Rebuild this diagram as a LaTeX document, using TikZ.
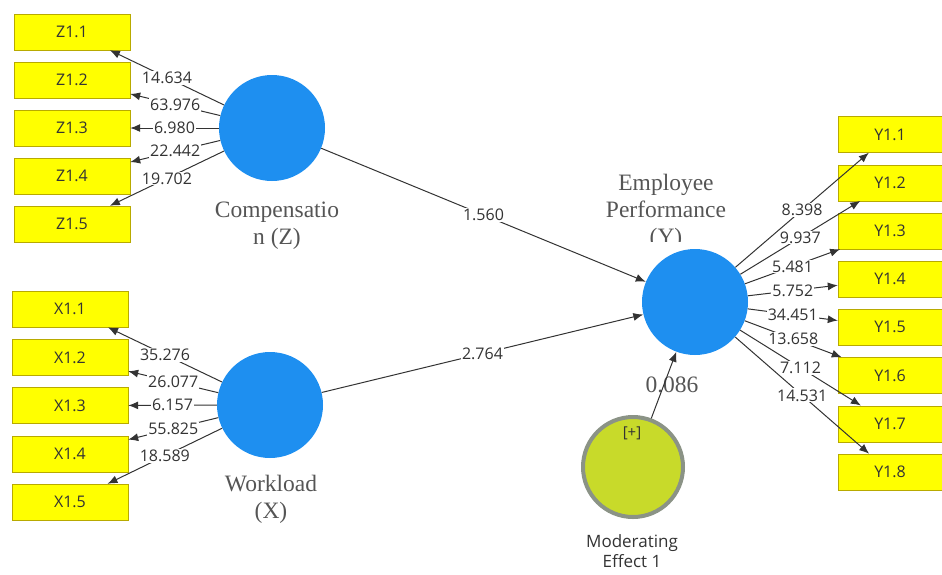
\documentclass[tikz,border=0pt]{standalone}
\usepackage{fontspec}
\setmainfont{Liberation Serif}
\setsansfont{Open Sans}
\usetikzlibrary{arrows.meta}
\definecolor{lvblue}{HTML}{1E8FF0}
\definecolor{modgreen}{HTML}{C8DA2A}
\definecolor{modrim}{HTML}{8B9386}
\definecolor{boxyellow}{HTML}{FFFF00}
\definecolor{boxrim}{HTML}{B8AA00}
\definecolor{inktext}{HTML}{333333}
\definecolor{serifgray}{HTML}{555555}

\begin{document}
\begin{tikzpicture}[x=1pt, y=-1pt]
	\tikzset{indicator/.style={draw=boxrim, fill=boxyellow, minimum width=116pt, minimum height=36pt, inner sep=0pt, text=inktext, font=\sffamily\fontsize{16}{19}\selectfont}}
	\tikzset{construct/.style={circle, fill=lvblue, minimum size=106pt, inner sep=0pt}}
	\tikzset{load/.style={draw=inktext, line width=1pt, -{Latex[length=10pt, width=8pt]}}}
	\tikzset{coef/.style={fill=white, inner sep=1pt, text=inktext, font=\sffamily\fontsize{16}{19}\selectfont}}
	\tikzset{lvname/.style={align=center, text=serifgray, font=\fontsize{23.5}{27}\selectfont}}
	\useasboundingbox (0,0) rectangle (942,574);
	% latent variables
	\node [construct] (comp) at (272,128) {};
	\node [construct] (work) at (270,405) {};
	\node [construct] (perf) at (695,302) {};
	\node [circle, draw=modrim, line width=4pt, fill=modgreen, minimum size=100pt, inner sep=0pt] (mod) at (633,467) {};
	\node [text=inktext, font=\sffamily\fontsize{15}{18}\selectfont] (plus) at (632,433) {[+]};
	% names
	\node [lvname] (complabel) at (277,226) {Compensatio\\n (Z)};
	\node [lvname] (worklabel) at (271,499) {Workload\\(X)};
	\begin{scope}
		\clip (600,150) rectangle (740,241);
		\node [lvname] (perflabel) at (666,212) {Employee\\Performance\\(Y)};
	\end{scope}
	\node [align=center, text=inktext, font=\sffamily\fontsize{17}{20}\selectfont] (modlabel) at (632,551) {Moderating\\Effect 1};
	% indicators
	\foreach \i in {1,...,5}
		\node [indicator] (z\i) at (72, {-16+48*\i}) {Z1.\i};
	\foreach \i in {1,...,5}
		\node [indicator] (x\i) at (70, {261+48.2*\i}) {X1.\i};
	\foreach \i in {1,...,8}
		\node [indicator, minimum width=104pt] (y\i) at (890, {86.3+48.2*\i}) {Y1.\i};
	% outer loadings
	\foreach \i/\v in {1/14.634, 2/63.976, 3/6.980, 4/22.442, 5/19.702}
		\draw [load] (comp) -- node [coef] {\v} (z\i);
	\foreach \i/\v in {1/35.276, 2/26.077, 3/6.157, 4/55.825, 5/18.589}
		\draw [load] (work) -- node [coef] {\v} (x\i);
	\foreach \i/\v in {1/8.398, 2/9.937, 3/5.481, 4/5.752, 5/34.451, 6/13.658, 7/7.112, 8/14.531}
		\draw [load] (perf) -- node [coef] {\v} (y\i);
	% paths
	\draw [load] (comp) -- node [coef] {1.560} (perf);
	\draw [load] (work) -- node [coef] {2.764} (perf);
	\node [text=serifgray, font=\fontsize{23.5}{27}\selectfont] (modcoef) at (672,385) {0.086};
	\draw [load] (mod) -- (perf);
\end{tikzpicture}
\end{document}
